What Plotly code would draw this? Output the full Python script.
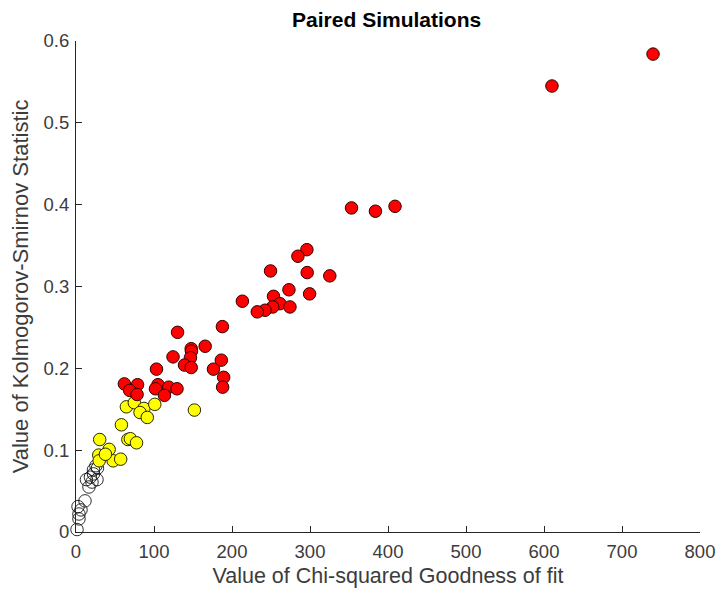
import plotly.graph_objects as go

# ---- data ----
red_x = [739.8, 610.2, 353.2, 383.9, 409.0, 296.0, 284.5, 249.4, 296.4, 325.4,
         273.0, 253.2, 299.5, 261.5, 274.3, 252.2, 242.3, 232.4, 213.3, 187.7,
         165.6, 130.2, 147.7, 148.0, 146.7, 124.4, 139.1, 147.7, 186.3, 176.2,
         103.2, 189.3, 188.0, 62.0, 78.9, 68.8, 78.3, 105.1, 101.9, 118.9,
         129.5, 113.4]
red_y = [0.584, 0.545, 0.396, 0.392, 0.398, 0.345, 0.337, 0.319, 0.317, 0.313,
         0.296, 0.288, 0.291, 0.279, 0.275, 0.275, 0.271, 0.269, 0.282, 0.251,
         0.227, 0.244, 0.224, 0.221, 0.213, 0.214, 0.204, 0.201, 0.210, 0.199,
         0.199, 0.189, 0.177, 0.181, 0.180, 0.173, 0.168, 0.180, 0.175, 0.177,
         0.175, 0.167]

yellow_x = [64.6, 74.8, 87.0, 101.0, 82.1, 91.4, 151.8, 58.2, 66.5, 69.7,
            77.6, 30.4, 42.5, 29.2, 29.7, 47.6, 57.3, 37.7]
yellow_y = [0.153, 0.158, 0.151, 0.156, 0.146, 0.140, 0.149, 0.131, 0.113, 0.114,
            0.109, 0.113, 0.101, 0.094, 0.087, 0.087, 0.089, 0.095]

open_x = [1.3, 3.8, 3.8, 6.4, 2.6, 11.5, 16.6, 13.4, 18.5, 22.4,
          25.6, 20.5, 26.9, 22.4, 27.5]
open_y = [0.003, 0.016, 0.022, 0.027, 0.031, 0.038, 0.055, 0.064, 0.067, 0.076,
          0.081, 0.061, 0.064, 0.071, 0.078]

x_ticks = [0, 100, 200, 300, 400, 500, 600, 700, 800]
y_ticks = [0, 0.1, 0.2, 0.3, 0.4, 0.5, 0.6]
y_tick_text = ["0", "0.1", "0.2", "0.3", "0.4", "0.5", "0.6"]

title_text = "Paired Simulations"
x_title = "Value of Chi-squared Goodness of fit"
y_title = "Value of Kolmogorov-Smirnov Statistic"

FONT = "Liberation Sans, Arial, Helvetica, sans-serif"
AX = "rgb(38,38,38)"
TXT = "rgb(60,60,60)"
MS = 12.5

fig = go.Figure()
fig.add_trace(go.Scatter(
    x=open_x, y=open_y, mode="markers", cliponaxis=False,
    marker=dict(symbol="circle-open", size=MS, color="rgb(20,20,20)",
                line=dict(width=0.9, color="rgb(20,20,20)")),
    showlegend=False))
fig.add_trace(go.Scatter(
    x=yellow_x, y=yellow_y, mode="markers", cliponaxis=False,
    marker=dict(symbol="circle", size=MS, color="#FFFF00",
                line=dict(width=1, color="rgb(40,40,0)")),
    showlegend=False))
fig.add_trace(go.Scatter(
    x=red_x, y=red_y, mode="markers", cliponaxis=False,
    marker=dict(symbol="circle", size=MS, color="#FF0000",
                line=dict(width=1, color="rgb(50,0,0)")),
    showlegend=False))

fig.update_layout(
    width=716, height=592,
    margin=dict(l=76, r=16, t=41, b=60, autoexpand=False),
    paper_bgcolor="white", plot_bgcolor="white",
    font=dict(family=FONT, color=TXT),
    title=dict(text="<b>" + title_text + "</b>", x=0.54, xanchor="center",
               y=1 - 20 / 592, yanchor="middle", yref="container",
               font=dict(size=21, color="black", family=FONT)),
    xaxis=dict(range=[0, 800], tickvals=x_ticks, ticks="inside", ticklen=6,
               tickcolor=AX, tickwidth=1, showline=True, linecolor=AX,
               linewidth=1, showgrid=False, zeroline=False, mirror=False,
               tickfont=dict(size=18.5, color=TXT), ticklabelstandoff=3,
               ticklabeloverflow="allow", automargin=False,
               title=dict(text=x_title, font=dict(size=21.5, color=TXT),
                          standoff=6)),
    yaxis=dict(range=[0, 0.6], tickvals=y_ticks, ticktext=y_tick_text,
               ticks="inside", ticklen=6,
               tickcolor=AX, tickwidth=1, showline=True, linecolor=AX,
               linewidth=1, showgrid=False, zeroline=False, mirror=False,
               tickfont=dict(size=18.5, color=TXT), ticklabelstandoff=2,
               ticklabeloverflow="allow", automargin=False,
               title=dict(text=y_title, font=dict(size=22, color=TXT),
                          standoff=8)),
)

fig.write_html("out.html")
